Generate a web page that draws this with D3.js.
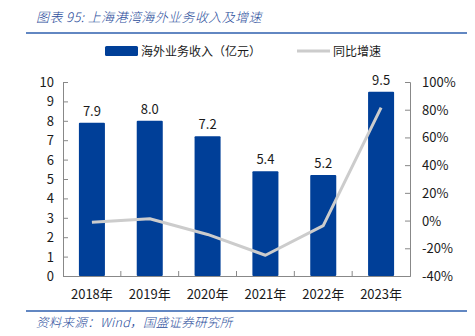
<!DOCTYPE html>
<html lang="zh">
<head>
<meta charset="UTF-8">
<script src="https://d3js.org/d3.v7.min.js"></script>
<style>
  body { margin: 0; background: #fff; }
  svg text { font-family: "Noto Sans CJK SC", "DejaVu Sans", sans-serif; }
</style>
</head>
<body>
<svg id="chart" width="475" height="336"></svg>
<script>
// data
const years = ["2018年", "2019年", "2020年", "2021年", "2022年", "2023年"];
const revenue = [7.9, 8.0, 7.2, 5.4, 5.2, 9.5];
const growth = [-1.2, 1.3, -10.0, -25.0, -3.7, 81.5];
const leftTicks = [0, 1, 2, 3, 4, 5, 6, 7, 8, 9, 10];
const rightTicks = [-40, -20, 0, 20, 40, 60, 80, 100];

const svg = d3.select("#chart");
const blue = "#003f98";
const titleBlue = "#2a4d9b";
const ink = "#1a1a1a";

const plotL = 63, plotR = 410, plotT = 82, plotB = 276;

const x = d3.scaleBand().domain(years).range([plotL, plotR]).paddingInner(0.55).paddingOuter(0.275);
const xEdge = d3.scaleBand().domain(years).range([plotL, plotR]);
const y = d3.scaleLinear().domain([0, 10]).range([plotB, plotT]);
const y2 = d3.scaleLinear().domain([-40, 100]).range([plotB, plotT]);

// title
svg.append("text")
  .attr("x", 36).attr("y", 22)
  .attr("fill", titleBlue)
  .style("font-size", "13px").style("font-style", "italic")
  .style("font-weight", 300).style("letter-spacing", "0.4px")
  .text("图表 95:  上海港湾海外业务收入及增速");
svg.append("line").attr("x1", 26).attr("x2", 467).attr("y1", 33).attr("y2", 33)
  .attr("stroke", "#2e5fae").attr("stroke-width", 1.5);

// legend
svg.append("rect").attr("x", 105).attr("y", 46).attr("width", 33).attr("height", 10)
  .attr("rx", 1.5).attr("fill", blue);
svg.append("text").attr("x", 141).attr("y", 56).attr("fill", ink)
  .style("font-size", "12px").text("海外业务收入（亿元）");
svg.append("line").attr("x1", 297).attr("x2", 330).attr("y1", 51).attr("y2", 51)
  .attr("stroke", "#cccccc").attr("stroke-width", 3);
svg.append("text").attr("x", 333).attr("y", 56).attr("fill", ink)
  .style("font-size", "12px").text("同比增速");

// bars
svg.append("g").selectAll("rect").data(revenue).enter().append("rect")
  .attr("x", (d, i) => x(years[i]))
  .attr("y", d => y(d))
  .attr("width", x.bandwidth())
  .attr("height", d => y(0) - y(d))
  .attr("rx", 1)
  .attr("fill", blue);

svg.append("g").selectAll("text").data(revenue).enter().append("text")
  .attr("x", (d, i) => x(years[i]) + x.bandwidth() / 2)
  .attr("y", d => y(d) - 7)
  .attr("text-anchor", "middle")
  .attr("fill", ink)
  .style("font-size", "13px")
  .text(d => d.toFixed(1));

// growth line
const line = d3.line()
  .x((d, i) => x(years[i]) + x.bandwidth() / 2)
  .y(d => y2(d));
svg.append("path").datum(growth)
  .attr("d", line)
  .attr("fill", "none")
  .attr("stroke", "#cccccc")
  .attr("stroke-width", 3)
  .attr("stroke-linejoin", "round");

// axes
const axisColor = "#888";
const gl = svg.append("g").attr("transform", "translate(" + plotL + ",0)")
  .call(d3.axisRight(y).tickValues(leftTicks).tickSize(5).tickFormat(""));
const gr = svg.append("g").attr("transform", "translate(" + plotR + ",0)")
  .call(d3.axisLeft(y2).tickValues(rightTicks).tickSize(5).tickFormat(""));
const gx = svg.append("g").attr("transform", "translate(0," + plotB + ")")
  .call(d3.axisTop(xEdge).tickValues([]).tickSizeOuter(0));
[gl, gr, gx].forEach(g => {
  g.select(".domain").attr("stroke", axisColor);
  g.selectAll(".tick line").attr("stroke", axisColor);
});
// x category separators
svg.append("g").selectAll("line").data(years.slice(1)).enter().append("line")
  .attr("x1", d => xEdge(d)).attr("x2", d => xEdge(d))
  .attr("y1", plotB).attr("y2", plotB - 5)
  .attr("stroke", axisColor);

svg.append("g").selectAll("text").data(leftTicks).enter().append("text")
  .attr("x", 54).attr("y", d => y(d) + 5)
  .attr("text-anchor", "end").attr("fill", ink)
  .style("font-size", "13px").text(d => d);

svg.append("g").selectAll("text").data(rightTicks).enter().append("text")
  .attr("x", 422).attr("y", d => y2(d) + 5)
  .attr("fill", ink)
  .style("font-size", "13px").text(d => d + "%");

svg.append("g").selectAll("text").data(years).enter().append("text")
  .attr("x", d => xEdge(d) + xEdge.bandwidth() / 2)
  .attr("y", 299)
  .attr("text-anchor", "middle").attr("fill", ink)
  .style("font-size", "13px").text(d => d);

// footer
svg.append("line").attr("x1", 26).attr("x2", 467).attr("y1", 311).attr("y2", 311)
  .attr("stroke", "#2e5fae").attr("stroke-width", 1.5);
svg.append("text")
  .attr("x", 36).attr("y", 327)
  .attr("fill", titleBlue)
  .style("font-size", "12.5px").style("font-style", "italic")
  .style("font-weight", 300).style("letter-spacing", "0.3px")
  .text("资料来源：Wind，国盛证券研究所");
</script>
</body>
</html>
